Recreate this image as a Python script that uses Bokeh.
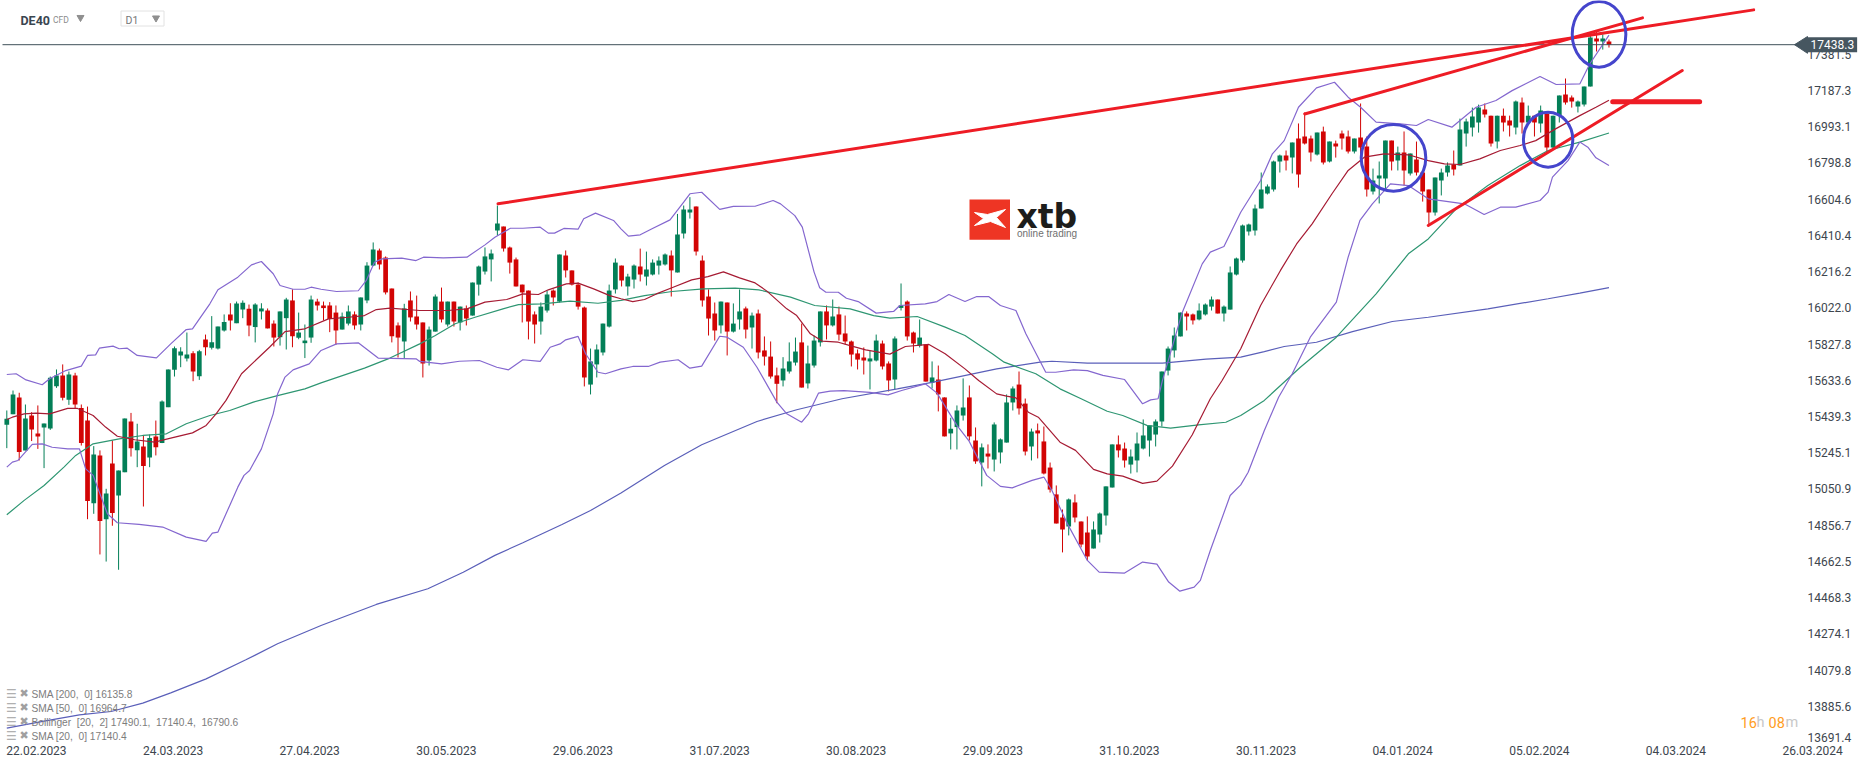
from bokeh.plotting import figure
from bokeh.embed import file_html
from bokeh.resources import INLINE
from bokeh.core.properties import value
from bokeh.models import FixedTicker, Label, ColumnDataSource

# ---- candles (one per trading day, left to right) ----
opens = [
15400,15457,15547,15263,15450,15354,15386,15380,15607,15665,
15534,15665,15490,15423,14980,15236,14894,15193,15021,15146,
15418,15264,15284,15225,15338,15302,15495,15695,15772,15756,
15784,15661,15858,15813,15809,15906,15992,15945,16018,16022,
15924,16008,16013,15943,15870,15972,16067,15867,15838,15868,
16061,16040,16040,16002,15911,15943,15992,15938,16067,16254,
16335,16297,16131,15933,15847,16067,15981,15949,15745,15900,
16061,15938,16061,15949,16024,15986,16152,16222,16287,16442,
16463,16351,16287,16152,16120,15992,15954,16013,16120,16061,
16308,16228,16152,16029,15616,15724,15788,15927,16126,16254,
16142,16179,16249,16195,16206,16254,16260,16308,16217,16426,
16538,16571,16281,16088,15997,15933,16056,15900,15965,16024,
15922,15997,15799,15766,15665,15638,15686,15734,15842,15622,
15718,15842,16008,15933,15992,15890,15847,15783,15761,15740,
15745,15836,15729,15643,16027,16061,15895,15825,15831,15626,
15643,15547,15354,15388,15450,15547,15316,15198,15246,15214,
15252,15305,15520,15616,15514,15284,15370,15311,15171,15027,
14903,14855,14984,14882,14823,14737,14812,14914,15064,15295,
15273,15187,15209,15273,15316,15348,15418,15691,15799,15874,
15997,15992,15965,15992,16034,16072,15997,16018,16206,16281,
16437,16442,16560,16640,16662,16812,16844,16833,16935,16946,
16935,16849,16973,16812,16908,16962,16946,16865,16941,16892,
16651,16721,16721,16924,16817,16860,16748,16823,16753,16662,
16538,16710,16753,16796,16790,16962,16994,17021,17091,17058,
16919,17058,17032,16994,17128,17021,17058,17016,17069,16887,
17058,17171,17155,17107,17117,17214,17471,17455,17455]
highs = [
15477,15584,15572,15509,15468,15504,15407,15659,15697,15724,
15686,15679,15509,15498,15286,15263,15057,15316,15155,15434,
15464,15406,15343,15348,15423,15531,15697,15820,15816,15895,
15795,15802,15884,15983,15927,15992,16052,16061,16067,16045,
16052,16052,16024,15960,16008,16081,16127,16002,15938,16093,
16076,16061,16058,16040,16002,16040,16008,16083,16272,16378,
16345,16303,16131,15949,16049,16115,16093,15949,15927,16099,
16136,16061,16061,16034,16040,16163,16254,16351,16340,16576,
16463,16356,16297,16152,16120,16008,16056,16120,16126,16313,
16335,16228,16163,16034,15809,15831,15943,16152,16292,16254,
16210,16260,16345,16329,16287,16303,16319,16335,16531,16576,
16621,16571,16308,16126,16056,16061,16056,16051,16126,16034,
16002,16018,15874,15847,15707,15763,15842,15868,15943,15825,
15879,16008,16040,16072,16034,15986,15852,15804,15815,15799,
15884,15852,15740,15874,16158,16067,15900,15965,15831,15740,
15718,15547,15438,15504,15649,15611,15386,15300,15295,15413,
15327,15563,15606,15686,15541,15380,15407,15391,15198,15075,
14946,15005,15027,14882,14909,14882,14930,15070,15295,15343,
15305,15268,15359,15429,15397,15429,15686,15820,15922,16002,
16008,15997,16051,16051,16088,16072,16040,16249,16297,16474,
16479,16581,16753,16689,16817,16849,16871,16914,17016,17075,
16951,16967,16999,16919,16924,16978,16978,16935,17123,16946,
16774,16812,16924,16924,16892,16973,16855,16919,16753,16662,
16726,16774,16807,16871,17042,17042,17101,17117,17123,17058,
17058,17096,17058,17139,17155,17112,17058,17112,17069,17058,
17166,17257,17166,17139,17214,17487,17514,17493,17466]
lows = [
15275,15457,15209,15263,15313,15271,15168,15373,15598,15531,
15507,15486,15289,14894,14923,14705,14667,14859,14623,15146,
15230,15173,14962,15173,15236,15302,15495,15659,15709,15740,
15634,15641,15772,15804,15804,15900,15906,15945,15972,15875,
15842,15965,15917,15820,15825,15804,15816,15859,15758,15840,
16013,15960,15897,15829,15911,15933,15911,15906,16052,16251,
16233,16099,15842,15761,15756,15954,15911,15654,15718,15900,
15949,15927,15927,15906,15933,15986,16093,16206,16169,16415,
16329,16211,16142,15949,15858,15836,15884,16002,16040,16056,
16190,16147,16018,15606,15563,15654,15772,15922,16104,16142,
16093,16131,16169,16147,16201,16206,16254,16088,16217,16399,
16506,16308,16034,15879,15852,15890,15772,15895,15911,15863,
15809,15756,15718,15648,15516,15606,15675,15718,15600,15595,
15707,15820,15858,15927,15852,15831,15713,15697,15670,15590,
15740,15697,15579,15590,16013,15852,15788,15815,15632,15595,
15472,15338,15268,15268,15423,15316,15191,15070,15166,15150,
15193,15305,15477,15455,15236,15209,15220,15134,15037,14871,
14716,14807,14877,14743,14673,14737,14769,14860,15064,15225,
15171,15139,15145,15268,15230,15284,15391,15665,15761,15874,
15906,15938,15960,15986,16013,15997,15954,16018,16201,16270,
16415,16415,16560,16635,16651,16753,16764,16748,16672,16903,
16812,16844,16796,16807,16833,16876,16855,16855,16839,16624,
16635,16587,16656,16764,16764,16683,16737,16737,16597,16469,
16522,16630,16731,16737,16790,16892,16946,16967,17048,16892,
16882,16973,16946,16957,16962,17016,16946,16967,16855,16876,
17021,17117,17101,17075,17107,17214,17402,17412,17423]
closes = [
15432,15563,15254,15434,15375,15338,15407,15652,15665,15545,
15670,15509,15302,14991,15241,14884,15032,14927,15155,15434,
15275,15311,15179,15330,15280,15525,15697,15811,15793,15777,
15686,15795,15816,15843,15927,15952,15960,16051,16054,15933,
16045,16024,15917,15868,16008,16072,15875,15895,15852,16072,
16040,16026,15968,15906,15981,16008,15933,16083,16254,16340,
16260,16110,15875,15868,16024,15976,15938,15729,15911,16088,
15965,16061,15954,16034,15970,16163,16249,16303,16319,16479,
16345,16270,16142,16110,15954,15938,16034,16099,16083,16313,
16228,16152,16034,15654,15740,15804,15943,16120,16270,16174,
16195,16254,16206,16233,16270,16281,16313,16228,16420,16555,
16555,16329,16067,15970,15906,16061,15900,15943,16008,15911,
15986,15788,15766,15659,15620,15702,15740,15793,15600,15729,
15852,16008,15933,15981,15884,15847,15777,15750,15745,15756,
15852,15713,15638,15863,16040,15874,15836,15868,15632,15654,
15563,15338,15379,15477,15493,15338,15204,15279,15230,15402,
15322,15520,15595,15488,15257,15364,15354,15139,15053,14871,
14839,15000,14903,14759,14694,14839,14925,15070,15295,15263,
15209,15230,15300,15343,15397,15418,15686,15809,15879,16002,
15981,15960,16013,16045,16072,15997,16034,16217,16292,16469,
16474,16560,16662,16678,16812,16844,16817,16914,16742,16908,
16860,16967,16807,16919,16892,16935,16865,16935,16887,16662,
16710,16737,16924,16812,16860,16764,16855,16753,16651,16538,
16726,16753,16790,16769,16983,17026,17053,17101,17064,16908,
17058,17021,17005,17134,17021,17058,17021,17085,16887,17058,
17166,17128,17134,17134,17214,17477,17455,17471,17438]

# ---- indicators, read at visible vertices: (bar position, price) ----
sma20_x = [0,.9,2.8,4.7,6.9,9.8,11.4,13.9,15.9,17.8,20.6,23.8,26.4,29.9,32.1,33.7,35.3,37.8,42.3,44.8,48,51.8,55,57.6,59.5,61.7,66.5,71,74.1,77,80.5,83.1,85.6,87.2,90.1,92,94.5,97.1,98.9,100.8,102.7,104.6,107.1,110.3,112.9,115.4,118,120.5,122.4,125.6,127.2,129.4,131.3,133.9,135.8,138.3,142.2,144.7,148.5,151.1,154.3,156.5,159.4,161,162.5,164.5,166.1,169.6,172.1,175,177.2,179.7,182.9,185.2,187.7,190.9,193.8,195.7,198.7,201.9,205.1,207.7,210.2,213.4,216,218.6,221.8,225.7,228.9,231.5,234,237.2,240.5,243.7,246.2,249.4,253.3,255.9,258]
sma20 = [15429,15441,15459,15463,15459,15488,15488,15450,15388,15339,15320,15307,15329,15357,15397,15459,15531,15674,15816,15900,15915,15968,15977,15986,16018,16026,16013,16013,16022,16058,16072,16102,16099,16124,16156,16160,16129,16093,16076,16061,16072,16102,16135,16177,16195,16220,16188,16161,16117,16022,15986,15888,15849,15843,15825,15802,15779,15820,15831,15781,15700,15638,15566,15554,15545,15468,15441,15307,15263,15161,15137,15125,15086,15098,15179,15347,15540,15638,15808,16040,16228,16370,16478,16639,16764,16835,16853,16848,16817,16799,16796,16826,16871,16898,16924,16987,17058,17103,17140]
sma50_x = [0,2.8,6,9.2,11.1,13.9,18.1,21.9,25.7,28.9,32.7,35.9,39.7,43.6,48,50.6,57.6,61.7,66.5,69,72.2,75.4,79.9,82.4,86.2,90.7,95.2,98.9,102.7,107.1,112.2,117.3,121.1,126.2,130.1,135.8,139.6,142.2,146.6,151.1,154.3,158.7,160.6,165.7,169.6,173,177.2,179.7,183.6,187.4,191.9,196.3,198.7,202.5,208.3,214.1,220.5,225.7,228.9,233.4,238.5,243.7,248.2,253.3,258]
sma50 = [14918,14995,15075,15173,15236,15298,15325,15343,15352,15406,15450,15477,15522,15557,15593,15625,15704,15758,15834,15879,15942,15977,16022,16045,16049,16063,16052,16067,16093,16115,16129,16133,16124,16085,16040,16022,15986,15972,15981,15924,15879,15781,15736,15674,15593,15540,15473,15450,15397,15382,15400,15414,15450,15531,15709,15870,16102,16317,16397,16558,16683,16790,16871,16916,16965]
sma200_x = [0,6,11.7,16.8,21.9,26.4,32.1,38.5,43.6,50.6,59.5,67.8,73.5,78.6,83.1,89.4,94,98.9,105.9,111.9,120.8,127.2,134.5,143.4,149.2,159.4,166.4,168.3,174,186.1,193.1,198.7,202.5,205.7,210.9,216.7,223.1,228.9,238.5,248.2,253.3,258]
sma200 = [13774,13811,13845,13863,13908,13963,14038,14140,14226,14324,14437,14521,14610,14700,14768,14866,14941,15034,15182,15293,15418,15481,15540,15593,15629,15700,15736,15741,15731,15731,15752,15763,15793,15820,15843,15900,15954,15977,16022,16076,16106,16136]
boll_up_x = [0,1.5,3.1,5.7,6.9,9.5,12,13,14.3,14.9,17.1,18.1,19.4,21,24.1,26.4,28.9,29.9,32.7,34,37.2,39.4,41,42.9,44,46.1,48,49,50.6,53.1,56.6,57.9,59.2,60.4,63.6,65.9,67.1,70.3,74.1,77,78.6,81.1,83.1,85.9,87.2,88.2,89.7,92,92.9,94.8,97.7,98.9,100.1,102,103.9,106.8,109,110,111.9,114.8,117,120.5,123.4,124.6,126.9,128.1,130,130.9,131.9,133.9,135.2,137.1,140,142.8,143.8,147.9,149.8,151.7,154.3,156.2,158.1,160,162.5,164.1,167.3,168.9,171.8,174,176.5,180,182.9,184.2,185.4,186.1,189.3,192.5,193.8,196,198.7,201.9,203.8,205.7,208,210.9,213.8,216,218,220.5,224.4,227,228.9,232.7,236.6,239.8,242.4,246.9,249.5,253.3,254.9,258]
boll_up = [15670,15674,15641,15615,15647,15691,15715,15772,15775,15811,15822,15808,15811,15772,15759,15834,15911,15915,16049,16124,16192,16258,16276,16210,16147,16127,16127,16138,16127,16115,16119,16174,16272,16290,16294,16281,16299,16295,16299,16365,16406,16454,16454,16460,16428,16428,16453,16449,16505,16535,16496,16451,16412,16419,16451,16499,16594,16639,16647,16555,16571,16572,16603,16585,16522,16460,16219,16135,16111,16111,16079,16061,15999,16008,16040,16049,16061,16099,16061,16088,16088,16040,16013,15888,15682,15682,15695,15691,15665,15643,15513,15534,15540,15638,16004,16263,16326,16356,16540,16710,16853,16924,17103,17207,17237,17157,17103,17023,17014,17005,17037,16996,17103,17139,17192,17268,17225,17228,17335,17490]
boll_lo_x = [0,.9,1.8,4.1,5.7,7.3,9.8,11.7,12.7,13.9,16.2,17.8,21.3,25.1,28.9,32.1,33.1,34,35.9,37.2,38.2,39.1,41,42.9,43.6,44.8,46.1,48.7,50.6,53.1,56.6,59.8,65.9,66.5,70,72.9,76.1,78.9,80.8,83.1,85.9,87.5,89.1,90,92,93.2,95.2,96.4,98.9,100.8,103.3,105.2,108.1,110,111.9,114.8,116,118.6,120.8,124,125.6,128,129.1,130.7,132.6,134.8,139,141.9,144.1,147.9,149.8,153,154.9,157.8,160,161.9,165.1,167,168.3,170.8,174,175.9,180,182.9,185.2,187.1,188.9,191.2,192.2,193.8,197,198.7,199.9,202.5,204.8,207,209.9,214.1,216,217.9,219.9,222.8,225.7,228.9,234.7,237.9,240.5,243,246.9,248.2,248.9,251.4,253.3,254.6,255.9,258]
boll_lo = [15173,15200,15209,15295,15298,15280,15271,15271,15164,15129,14923,14875,14866,14852,14798,14775,14819,14825,14968,15066,15129,15155,15271,15459,15566,15656,15695,15727,15799,15834,15840,15758,15754,15740,15727,15741,15745,15709,15695,15749,15740,15816,15834,15856,15874,15781,15682,15674,15700,15713,15713,15736,15749,15704,15715,15875,15870,15816,15709,15522,15459,15414,15459,15570,15581,15584,15574,15561,15584,15620,15570,15397,15316,15129,15070,15062,15102,15120,15048,14869,14673,14610,14605,14664,14653,14557,14508,14530,14566,14726,15021,15078,15146,15370,15548,15674,15870,16058,16299,16496,16585,16692,16683,16612,16585,16528,16567,16567,16603,16648,16728,16817,16916,16889,16832,16791]

# ---- drawn analysis objects: (bar position, price) ----
trend_x = [[79.1, 281.3], [209.0, 263.4], [228.9, 269.8], [258.6, 272.6]]
trend_y = [[16585, 17625], [17067, 17582], [16469, 17300], [17132, 17132]]
circle_x = [223.3, 248.2, 256.4]
circle_y = [16832, 16929, 17494]
circle_w = [10.4, 7.95, 8.63]
circle_h = [358, 295, 352]

# ---- axis texts ----
date_labels = ["22.02.2023","24.03.2023","27.04.2023","30.05.2023","29.06.2023","31.07.2023","30.08.2023",
               "29.09.2023","31.10.2023","30.11.2023","04.01.2024","05.02.2024","04.03.2024","26.03.2024"]
price_labels = [17381.5,17187.3,16993.1,16798.8,16604.6,16410.4,16216.2,16022.0,15827.8,15633.6,15439.3,
                15245.1,15050.9,14856.7,14662.5,14468.3,14274.1,14079.8,13885.6,13691.4]
last_price = 17438.3
NB = "\u00a0"
legend_rows = [f"SMA [200,{NB}{NB}0] 16135.8", f"SMA [50,{NB}{NB}0] 16964.7",
               f"Bollinger{NB}{NB}[20,{NB}{NB}2] 17490.1,{NB}{NB}17140.4,{NB}{NB}16790.6", f"SMA [20,{NB}{NB}0] 17140.4"]

UP, DOWN = "#037f57", "#d20404"
W, H, BOTTOM = 1866, 767, 25
BAR_PX, BAR0_PX = 6.21, 6.3
PX_PER_UNIT, PRICE_Y, PRICE_PY = 0.1865, last_price, 44.2

def X(px):
    return (px - BAR0_PX) / BAR_PX
def Y(py):
    return PRICE_Y + (PRICE_PY - py) / PX_PER_UNIT

p = figure(width=W, height=H, output_backend="svg", toolbar_location=None,
           x_range=(X(0), X(W)), y_range=(Y(H - BOTTOM), Y(0)),
           min_border_left=0, min_border_top=0, min_border_right=0, min_border_bottom=BOTTOM,
           y_axis_location="right", margin=(0, 0, 0, 0))
p.outline_line_color = None
p.grid.visible = False
p.background_fill_color = "white"
p.border_fill_color = "white"

AX = "#3d464e"
p.xaxis.ticker = FixedTicker(ticks=[22 * k + 4.78 for k in range(len(date_labels))])
p.xaxis.major_label_overrides = {22 * k + 4.78: d for k, d in enumerate(date_labels)}
# text sits a pixel above its value; the last label is pushed up off the frame's bottom edge
tick_pos = [v + 5.4 if v > 13700 else 13725.0 for v in price_labels]
p.yaxis.ticker = FixedTicker(ticks=tick_pos)
p.yaxis.major_label_overrides = {t: f"{v:.1f}" for t, v in zip(tick_pos, price_labels)}
for ax in (p.xaxis[0], p.yaxis[0]):
    ax.axis_line_color = None
    ax.major_tick_line_color = None
    ax.minor_tick_line_color = None
    ax.major_tick_out = 0
    ax.major_tick_in = 0
    ax.major_label_text_font = "Roboto"
    ax.major_label_text_font_size = "12px"
    ax.major_label_text_color = AX
p.xaxis.major_label_standoff = 3
p.yaxis.major_label_standoff = -59

# candles
idx = list(range(len(opens)))
cols = [UP if c >= o else DOWN for o, c in zip(opens, closes)]
src = ColumnDataSource(dict(x=idx, o=opens, h=highs, l=lows, c=closes, col=cols,
                            top=[max(a, b) for a, b in zip(opens, closes)],
                            bot=[min(a, b) for a, b in zip(opens, closes)]))
p.segment("x", "h", "x", "l", color="col", line_width=1, source=src)
p.vbar("x", 0.76, "bot", "top", fill_color="col", line_color=None, source=src)

# indicators
p.line(sma200_x, sma200, color="#5a5fb9", line_width=1.2)
p.line(sma50_x, sma50, color="#2e9672", line_width=1.2)
p.line(boll_up_x, boll_up, color="#8467cf", line_width=1.2)
p.line(boll_lo_x, boll_lo, color="#8467cf", line_width=1.2)
p.line(sma20_x, sma20, color="#a61b33", line_width=1.2)

# last price line and tag
p.line([X(2), X(1800)], [last_price, last_price], color="#3f5059", line_width=1)
TAG = "#465660"
p.patch([X(1794), X(1807), X(1807)], [Y(44.2), Y(36), Y(52.8)], color=TAG)

# drawn trend lines and circles
for k, (tx, ty) in enumerate(zip(trend_x, trend_y)):
    p.line(tx, ty, color="#ee1c25", line_width=5 if k == 3 else 3, line_cap="round")
p.ellipse(circle_x, circle_y, width=circle_w, height=circle_h, fill_color=None,
          line_color="#4545cc", line_width=3)

# header
def txt(px, py, s, size, color, font="Roboto", style="normal", align="left"):
    p.text([X(px)], [Y(py)], text=[s], text_font=value(font), text_font_size=f"{size}px", text_color=color,
           text_font_style=style, text_align=align, text_baseline="middle")

txt(20, 19.5, "DE40", 12.5, "#3a4650", style="bold")
txt(52.5, 19.5, "CFD", 8.5, "#8c8c8c")
p.scatter([X(80)], [Y(17)], marker="inverted_triangle", size=7, color="#8f8f8f")
p.quad(left=[X(120.5)], right=[X(163.5)], top=[Y(10.5)], bottom=[Y(25.5)], fill_color="white", line_color="#e2e2e2")
txt(125, 20, "D1", 10.5, "#777777")
p.scatter([X(155.5)], [Y(17.5)], marker="inverted_triangle", size=7, color="#8f8f8f")

# logo
p.quad(left=[X(969)], right=[X(1009.5)], top=[Y(199)], bottom=[Y(239.3)], fill_color="#ee3524", line_color=None)
p.patch([X(v) for v in (974, 987, 1005, 996, 1005, 990, 974, 983)],
        [Y(v) for v in (212, 214, 209, 217, 227, 221, 225, 218)], color="white")
txt(1016, 215.5, "xtb", 33, "#1d1d1b", font="DejaVu Sans", style="bold")
txt(1016.5, 233, "online trading", 10, "#6f6f6f", font="Liberation Sans")

# indicator legend
for k, s in enumerate(legend_rows):
    y = 694 + 14 * k
    txt(5.5, y - 1, "\u2630", 12, "#b0b0b0", font="DejaVu Sans")
    txt(19, y - 1, "\u2716", 11, "#a0a0a0", font="DejaVu Sans")
    txt(31, y, s, 10.2, "#7d7d7d", font="Liberation Sans")

# countdown
txt(1740, 722.3, "16", 14.5, "#ff9d1e")
txt(1756, 722.3, "h", 14.5, "#c8c8c8")
txt(1768, 722.3, "08", 14.5, "#ff9d1e")
txt(1785, 722.3, "m", 14.5, "#c8c8c8")

# price tag label above the axis texts
p.add_layout(Label(x=X(1807), y=last_price, x_units="data", y_units="data", text="17438.3",
                   text_color="white", text_font="Roboto", text_font_size="12px",
                   text_align="left", text_baseline="middle",
                   background_fill_color=TAG, padding=3))

open("out.html", "w").write(file_html(p, INLINE))
